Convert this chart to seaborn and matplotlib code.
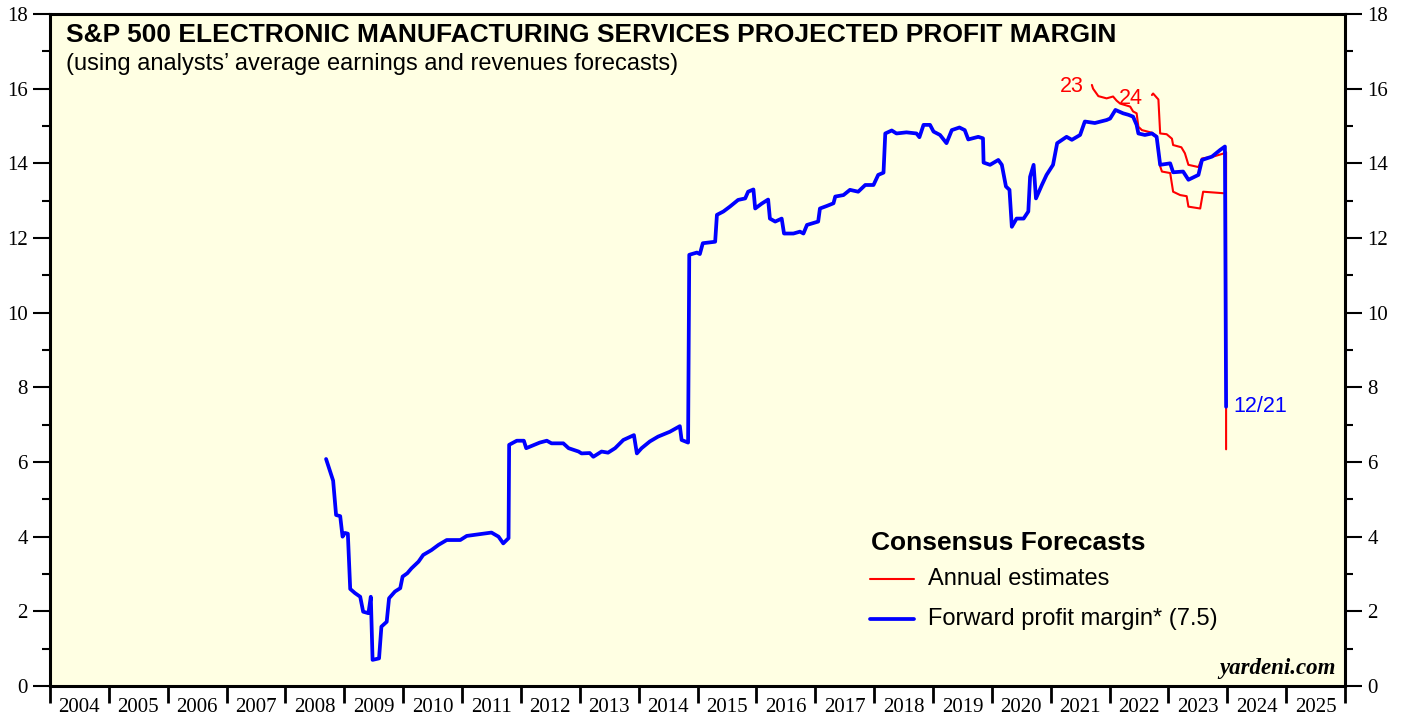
import numpy as np
import pandas as pd
import matplotlib
matplotlib.use('Agg')
import matplotlib.pyplot as plt
import seaborn as sns

# forward profit margin (blue)
fwd_year = [2008.69, 2008.81, 2008.86, 2008.93, 2008.97, 2009.01, 2009.06, 2009.10, 2009.18, 2009.27,
            2009.32, 2009.41, 2009.45, 2009.48, 2009.59, 2009.63, 2009.72, 2009.76, 2009.86, 2009.95,
            2009.99, 2010.07, 2010.14, 2010.26, 2010.34, 2010.48, 2010.60, 2010.74, 2010.97, 2011.08,
            2011.31, 2011.50, 2011.62, 2011.70, 2011.79, 2011.80, 2011.93, 2012.05, 2012.09, 2012.32,
            2012.44, 2012.52, 2012.72, 2012.81, 2012.98, 2013.03, 2013.17, 2013.23, 2013.37, 2013.48,
            2013.60, 2013.74, 2013.92, 2013.97, 2014.05, 2014.19, 2014.33, 2014.53, 2014.70, 2014.73,
            2014.84, 2014.86, 2014.99, 2015.04, 2015.09, 2015.30, 2015.33, 2015.44, 2015.55, 2015.69,
            2015.81, 2015.86, 2015.95, 2015.98, 2016.09, 2016.20, 2016.23, 2016.32, 2016.43, 2016.47,
            2016.63, 2016.74, 2016.80, 2016.86, 2017.05, 2017.08, 2017.20, 2017.31, 2017.34, 2017.48,
            2017.59, 2017.73, 2017.85, 2017.99, 2018.07, 2018.16, 2018.19, 2018.30, 2018.38, 2018.55,
            2018.72, 2018.77, 2018.84, 2018.95, 2019.01, 2019.12, 2019.23, 2019.32, 2019.45, 2019.54,
            2019.60, 2019.77, 2019.85, 2019.86, 2019.97, 2020.11, 2020.17, 2020.24, 2020.30, 2020.34,
            2020.42, 2020.54, 2020.62, 2020.65, 2020.71, 2020.75, 2020.85, 2020.93, 2021.04, 2021.11,
            2021.27, 2021.36, 2021.50, 2021.58, 2021.75, 2021.95, 2022.01, 2022.10, 2022.23, 2022.32,
            2022.40, 2022.46, 2022.49, 2022.60, 2022.72, 2022.80, 2022.86, 2023.03, 2023.08, 2023.25,
            2023.34, 2023.51, 2023.57, 2023.74, 2023.88, 2023.96, 2023.98]
fwd_margin = [6.08, 5.50, 4.58, 4.55, 4.00, 4.10, 4.08, 2.60, 2.49, 2.39,
              1.99, 1.95, 2.39, 0.70, 0.74, 1.59, 1.72, 2.35, 2.53, 2.62,
              2.93, 3.02, 3.15, 3.33, 3.51, 3.64, 3.78, 3.91, 3.91, 4.02,
              4.07, 4.11, 4.00, 3.82, 3.96, 6.46, 6.57, 6.57, 6.37, 6.52,
              6.57, 6.50, 6.50, 6.37, 6.28, 6.23, 6.24, 6.14, 6.28, 6.25,
              6.37, 6.59, 6.72, 6.23, 6.37, 6.55, 6.68, 6.81, 6.96, 6.59,
              6.52, 11.55, 11.61, 11.57, 11.86, 11.90, 12.62, 12.71, 12.84, 13.02,
              13.06, 13.24, 13.30, 12.79, 12.92, 13.03, 12.52, 12.44, 12.52, 12.12,
              12.12, 12.17, 12.12, 12.35, 12.44, 12.79, 12.86, 12.93, 13.11, 13.15,
              13.29, 13.24, 13.42, 13.42, 13.69, 13.75, 14.80, 14.88, 14.80, 14.83,
              14.80, 14.70, 15.03, 15.03, 14.85, 14.76, 14.54, 14.89, 14.96, 14.89,
              14.64, 14.71, 14.67, 14.02, 13.96, 14.09, 13.96, 13.38, 13.29, 12.30,
              12.52, 12.52, 12.71, 13.64, 13.96, 13.06, 13.42, 13.69, 13.96, 14.54,
              14.71, 14.63, 14.76, 15.12, 15.08, 15.16, 15.20, 15.43, 15.34, 15.30,
              15.25, 15.03, 14.80, 14.76, 14.80, 14.71, 13.96, 14.00, 13.76, 13.78,
              13.56, 13.69, 14.09, 14.18, 14.36, 14.45, 7.48]

# annual estimates (red)
est23_year = [2021.70, 2021.72, 2021.81, 2021.95, 2022.06, 2022.12, 2022.18, 2022.35, 2022.40, 2022.46,
              2022.49, 2022.55, 2022.72, 2022.80, 2022.86, 2022.89, 2023.03, 2023.08, 2023.20, 2023.31,
              2023.34, 2023.54, 2023.59, 2023.76, 2023.93]
est23_margin = [16.10, 16.00, 15.80, 15.74, 15.79, 15.68, 15.60, 15.52, 15.39, 15.34,
                14.98, 14.89, 14.82, 14.73, 13.92, 13.78, 13.74, 13.24, 13.15, 13.12,
                12.84, 12.79, 13.24, 13.22, 13.20]
est24_year = [2022.72, 2022.74, 2022.83, 2022.86, 2022.97, 2023.06, 2023.08, 2023.22, 2023.28, 2023.34,
              2023.51, 2023.57, 2023.76, 2023.93, 2023.98, 2023.98]
est24_margin = [15.83, 15.87, 15.71, 14.80, 14.78, 14.66, 14.49, 14.43, 14.27, 13.96,
                13.90, 14.13, 14.18, 14.26, 14.30, 6.34]

year_labels = [str(y) for y in range(2004, 2026)]

sns.set_style('ticks')
plt.rcParams['font.family'] = ['Liberation Sans', 'DejaVu Sans']
plt.rcParams['text.color'] = 'black'
plt.rcParams['xtick.color'] = 'black'
plt.rcParams['ytick.color'] = 'black'
plt.rcParams['axes.edgecolor'] = 'black'

fig = plt.figure(figsize=(14.05, 7.17), dpi=100)
ax = fig.add_axes([50 / 1405, 31 / 717, 1295 / 1405, 672 / 717])
ax.set_facecolor('#FFFFE3')

sns.lineplot(x=est23_year, y=est23_margin, ax=ax, color='#FF0000', linewidth=1.5,
             estimator=None, sort=False)
sns.lineplot(x=est24_year, y=est24_margin, ax=ax, color='#FF0000', linewidth=1.5,
             estimator=None, sort=False)
sns.lineplot(x=fwd_year, y=fwd_margin, ax=ax, color='#0000FF', linewidth=2.7,
             estimator=None, sort=False)

ax.set_xlim(2004, 2026)
ax.set_ylim(0, 18)
ax.set_xlabel('')
ax.set_ylabel('')

ax.set_xticks(range(2004, 2027))
ax.set_xticklabels([])
ax.set_xticks(np.arange(2004.5, 2026, 1.0), minor=True)
ax.set_xticklabels(year_labels, minor=True)
ax.tick_params(axis='x', which='major', direction='out', length=12.5, width=2)
ax.tick_params(axis='x', which='minor', length=0, pad=9, labelsize=15,
               labelfontfamily='Liberation Serif')

ax.set_yticks(range(0, 19, 2))
ax.set_yticks(range(1, 18, 2), minor=True)
ax.tick_params(axis='y', which='both', left=True, right=True, labelleft=True,
               labelright=True, direction='out', width=1.5)
ax.tick_params(axis='y', which='major', length=12, pad=4, labelsize=15,
               labelfontfamily='Liberation Serif')
ax.tick_params(axis='y', which='minor', length=6)
for s in ax.spines.values():
    s.set_visible(True)
    s.set_linewidth(2.2)

# titles
ax.text(0.012, 0.986, 'S&P 500 ELECTRONIC MANUFACTURING SERVICES PROJECTED PROFIT MARGIN',
        transform=ax.transAxes, fontsize=19, fontweight='bold', va='top', ha='left')
ax.text(0.012, 0.942, '(using analysts\u2019 average earnings and revenues forecasts)',
        transform=ax.transAxes, fontsize=17, va='top', ha='left')

# series annotations
ax.text(2021.57, 16.05, '23', color='#FF0000', fontsize=15.5, ha='right', va='center')
ax.text(2022.37, 15.75, '24', color='#FF0000', fontsize=15.5, ha='center', va='center')
ax.text(2024.1, 7.5, '12/21', color='#0000FF', fontsize=15.5, ha='left', va='center')

# legend block
ax.text(0.634, 0.213, 'Consensus Forecasts', transform=ax.transAxes, fontsize=19,
        fontweight='bold', va='center', ha='left')
ax.plot([0.633, 0.667], [0.159, 0.159], transform=ax.transAxes, color='#FF0000', linewidth=1.5)
ax.text(0.678, 0.159, 'Annual estimates', transform=ax.transAxes, fontsize=17,
        va='center', ha='left')
ax.plot([0.633, 0.667], [0.100, 0.100], transform=ax.transAxes, color='#0000FF', linewidth=2.7)
ax.text(0.678, 0.100, 'Forward profit margin* (7.5)', transform=ax.transAxes, fontsize=17,
        va='center', ha='left')

ax.text(0.993, 0.010, 'yardeni.com', transform=ax.transAxes, fontsize=16.5,
        fontweight='bold', fontstyle='italic', family='Liberation Serif',
        ha='right', va='bottom')

fig.savefig('out.png', dpi=100)
